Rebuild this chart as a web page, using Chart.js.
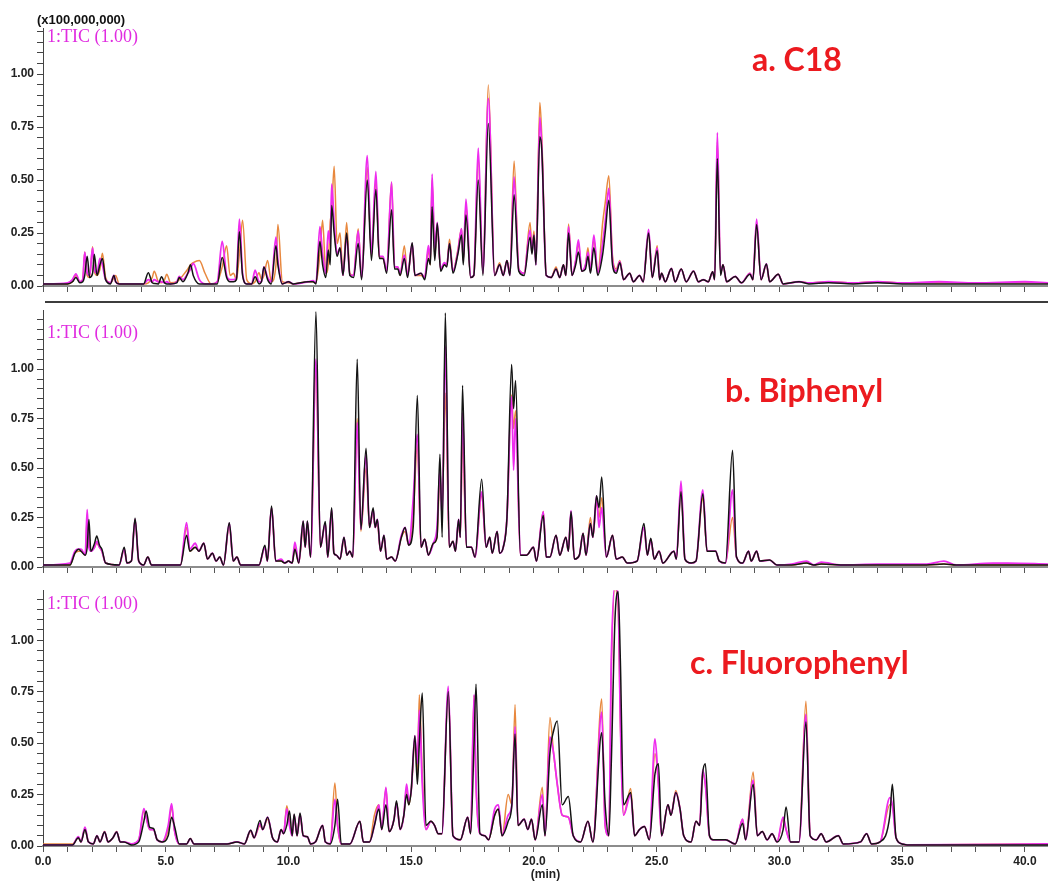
<!DOCTYPE html>
<html>
<head>
<meta charset="utf-8">
<script src="https://cdn.jsdelivr.net/npm/chart.js@4.4.1/dist/chart.umd.min.js"></script>
<style>
  body { margin: 0; background: #fff; }
  #wrap { position: relative; width: 1048px; height: 882px; overflow: hidden; }
  #wrap canvas { position: absolute; left: 0; }
  .scale { position: absolute; left: 37px; top: 12px; font: bold 13px "Liberation Sans", Arial, sans-serif; color: #111; line-height: 16px; }
  .tic { position: absolute; left: 47px; font: 18px "Liberation Serif", "Times New Roman", serif; color: #e02ce0; line-height: 20px; }
  .name { position: absolute; font: bold 32px Lato, "Open Sans", sans-serif; color: #ec1a1f; line-height: 38px; white-space: nowrap; }
</style>
</head>
<body>
<div id="wrap">
  <canvas id="panelA" width="1048" height="300" style="top:0"></canvas>
  <canvas id="panelB" width="1048" height="280" style="top:300px"></canvas>
  <canvas id="panelC" width="1048" height="302" style="top:580px"></canvas>
  <div class="scale">(x100,000,000)</div>
  <div class="tic" style="top:26px">1:TIC (1.00)</div>
  <div class="tic" style="top:322px">1:TIC (1.00)</div>
  <div class="tic" style="top:593px">1:TIC (1.00)</div>
  <div class="name" style="left:752px;top:40px">a. C18</div>
  <div class="name" style="left:725px;top:371px">b. Biphenyl</div>
  <div class="name" style="left:690px;top:643px">c. Fluorophenyl</div>
</div>
<script>
// TIC traces, retention time in min, intensity in units of 1e8 counts.
// Three injections per column: black, magenta, orange.

// a. C18
var c18Time = [
  0, 1.0, 1.2, 1.34, 1.5, 1.62, 1.7, 1.8, 1.9, 2.02,
  2.09, 2.2, 2.32, 2.42, 2.55, 2.75, 2.89, 2.96, 3.1, 4.1,
  4.29, 4.45, 4.53, 4.7, 4.83, 4.95, 5.04, 5.2, 5.45, 5.55,
  5.7, 5.9, 6.01, 6.12, 6.37, 6.6, 6.85, 7.1, 7.3, 7.48,
  7.62, 7.76, 7.88, 8.0, 8.13, 8.3, 8.5, 8.64, 8.8, 8.9,
  9.0, 9.15, 9.3, 9.49, 9.57, 9.75, 10.0, 10.2, 10.8, 11.0,
  11.12, 11.28, 11.39, 11.52, 11.62, 11.7, 11.76, 11.86, 11.98, 12.1,
  12.22, 12.37, 12.5, 12.65, 12.84, 12.98, 13.21, 13.38, 13.56, 13.7,
  13.85, 14.0, 14.2, 14.32, 14.45, 14.55, 14.72, 14.85, 15.04, 15.15,
  15.4, 15.55, 15.7, 15.78, 15.85, 15.96, 16.06, 16.2, 16.35, 16.45,
  16.56, 16.7, 16.9, 17.05, 17.12, 17.23, 17.42, 17.55, 17.73, 17.92,
  18.14, 18.4, 18.6, 18.75, 18.9, 19.02, 19.19, 19.38, 19.6, 19.84,
  19.92, 20.0, 20.08, 20.24, 20.32, 20.5, 20.7, 20.9, 21.05, 21.2,
  21.3, 21.41, 21.55, 21.7, 21.81, 21.95, 22.1, 22.2, 22.3, 22.44,
  22.6, 22.8, 22.9, 23.05, 23.2, 23.35, 23.5, 23.65, 23.9, 24.05,
  24.3, 24.45, 24.67, 24.82, 25.02, 25.12, 25.2, 25.35, 25.6, 25.75,
  26.0, 26.2, 26.5, 26.7, 26.9, 27.1, 27.28, 27.36, 27.47, 27.6,
  27.7, 27.85, 28.2, 28.45, 28.8, 28.92, 29.07, 29.25, 29.47, 29.6,
  29.95, 30.15, 30.8, 31.2, 32.0, 33.0, 34.0, 35.0, 36.5, 38.0,
  40.0, 40.94
];
var c18Black = [
  .01, .01, .02, .04, .015, .02, .05, .14, .04, .06,
  .15, .05, .1, .13, .03, .01, .05, .02, .01, .01,
  .063, .015, .012, .01, .044, .015, .01, .01, .015, .04,
  .02, .06, .1, .05, .01, .01, .01, .01, .135, .04,
  .02, .02, .03, .256, .05, .01, .01, .044, .01, .02,
  .09, .03, .01, .19, .1, .01, .02, .01, .02, .02,
  .01, .21, .1, .04, .17, .1, .38, .25, .14, .18,
  .05, .25, .05, .04, .2, .03, .5, .12, .455, .13,
  .13, .06, .36, .08, .08, .05, .13, .04, .204, .05,
  .06, .03, .13, .1, .374, .12, .296, .07, .1, .09,
  .2, .06, .15, .24, .1, .335, .04, .05, .5, .05,
  .767, .05, .1, .05, .12, .05, .43, .07, .05, .23,
  .15, .24, .1, .704, .64, .05, .04, .08, .04, .1,
  .05, .25, .05, .1, .16, .07, .08, .14, .06, .18,
  .05, .15, .25, .405, .1, .06, .11, .03, .06, .02,
  .05, .02, .25, .04, .167, .03, .06, .02, .083, .02,
  .08, .02, .07, .02, .03, .02, .067, .03, .602, .05,
  .1, .02, .045, .015, .055, .03, .29, .03, .104, .02,
  .055, .01, .02, .01, .015, .01, .015, .01, .01, .01,
  .01, .01
];
var c18Magenta = [
  .01, .015, .03, .057, .02, .03, .16, .06, .05, .18,
  .08, .06, .13, .1, .03, .015, .05, .02, .01, .01,
  .03, .02, .03, .02, .02, .015, .02, .01, .02, .045,
  .03, .06, .08, .107, .03, .01, .01, .02, .21, .05,
  .03, .03, .04, .315, .06, .01, .01, .075, .02, .02,
  .09, .04, .02, .23, .12, .01, .02, .01, .02, .025,
  .015, .28, .15, .06, .26, .2, .48, .3, .15, .18,
  .05, .24, .05, .05, .26, .04, .615, .15, .54, .14,
  .14, .07, .49, .09, .09, .06, .146, .05, .2, .05,
  .06, .04, .19, .12, .528, .16, .3, .08, .11, .1,
  .2, .07, .16, .27, .12, .41, .04, .05, .65, .06,
  .885, .05, .1, .05, .12, .05, .515, .08, .06, .264,
  .16, .24, .1, .795, .65, .05, .04, .08, .04, .1,
  .05, .28, .05, .12, .217, .07, .1, .16, .07, .24,
  .06, .2, .3, .46, .12, .07, .115, .03, .06, .02,
  .05, .02, .267, .04, .18, .03, .06, .02, .083, .02,
  .08, .02, .07, .02, .03, .02, .067, .03, .723, .06,
  .1, .02, .045, .015, .06, .03, .315, .03, .104, .02,
  .055, .01, .02, .015, .02, .015, .02, .015, .02, .015,
  .02, .015
];
var c18Orange = [
  .01, .01, .02, .05, .02, .03, .16, .05, .04, .185,
  .07, .05, .08, .155, .04, .015, .04, .05, .01, .01,
  .015, .04, .07, .02, .015, .03, .055, .015, .02, .03,
  .05, .08, .1, .11, .12, .06, .01, .02, .09, .19,
  .05, .06, .03, .15, .31, .03, .01, .02, .063, .03,
  .05, .12, .02, .1, .29, .02, .015, .01, .02, .02,
  .015, .15, .31, .06, .1, .3, .35, .565, .2, .25,
  .05, .3, .06, .05, .27, .04, .56, .14, .5, .14,
  .13, .07, .49, .09, .09, .05, .19, .05, .19, .05,
  .05, .04, .17, .1, .5, .14, .28, .08, .1, .1,
  .22, .07, .17, .27, .12, .38, .04, .05, .6, .06,
  .948, .05, .11, .05, .12, .06, .59, .08, .06, .3,
  .18, .26, .12, .865, .7, .05, .04, .09, .04, .1,
  .05, .292, .05, .12, .2, .07, .1, .18, .07, .22,
  .06, .3, .39, .52, .14, .08, .12, .03, .06, .02,
  .05, .02, .25, .04, .19, .03, .06, .02, .083, .02,
  .08, .02, .07, .02, .03, .02, .067, .03, .68, .06,
  .1, .02, .045, .015, .06, .03, .3, .03, .1, .02,
  .055, .01, .02, .015, .02, .015, .02, .015, .015, .015,
  .015, .015
];

// b. Biphenyl
var biphenylTime = [
  0, 1.1, 1.3, 1.45, 1.55, 1.72, 1.8, 1.87, 1.95, 2.1,
  2.19, 2.3, 2.4, 2.55, 3.1, 3.31, 3.42, 3.6, 3.75, 3.9,
  4.1, 4.27, 4.42, 5.6, 5.85, 5.98, 6.2, 6.35, 6.55, 6.7,
  6.9, 7.05, 7.2, 7.35, 7.59, 7.75, 7.9, 8.05, 8.8, 9.04,
  9.14, 9.31, 9.48, 9.7, 9.85, 10.0, 10.15, 10.26, 10.42, 10.6,
  10.68, 10.77, 10.9, 11.12, 11.3, 11.5, 11.6, 11.76, 11.85, 11.95,
  12.1, 12.26, 12.38, 12.5, 12.62, 12.8, 12.95, 13.16, 13.3, 13.45,
  13.53, 13.62, 13.75, 13.89, 14.0, 14.2, 14.35, 14.6, 14.75, 14.9,
  15.08, 15.25, 15.4, 15.55, 15.7, 15.9, 16.05, 16.17, 16.26, 16.39,
  16.55, 16.7, 16.8, 16.93, 17.0, 17.09, 17.25, 17.45, 17.6, 17.87,
  18.05, 18.2, 18.3, 18.5, 18.6, 18.75, 18.9, 19.09, 19.17, 19.25,
  19.45, 19.7, 19.98, 20.1, 20.38, 20.5, 20.65, 20.9, 21.05, 21.3,
  21.4, 21.51, 21.65, 21.85, 22.0, 22.12, 22.3, 22.4, 22.55, 22.65,
  22.76, 22.95, 23.2, 23.35, 23.6, 23.8, 24.2, 24.48, 24.62, 24.76,
  24.9, 25.1, 25.25, 25.7, 25.8, 25.99, 26.15, 26.4, 26.6, 26.88,
  27.05, 27.4, 27.55, 27.8, 28.09, 28.25, 28.5, 28.74, 28.85, 29.07,
  29.2, 29.6, 29.9, 30.5, 31.1, 31.4, 31.7, 32.5, 34.0, 36.0,
  36.7, 37.2, 38.7, 39.3, 40.94
];
var biphenylBlack = [
  .01, .01, .07, .09, .08, .06, .1, .24, .08, .12,
  .157, .11, .09, .02, .01, .1, .02, .03, .246, .03,
  .01, .05, .01, .01, .16, .08, .1, .08, .12, .04,
  .07, .03, .05, .01, .224, .03, .05, .01, .01, .11,
  .03, .308, .03, .03, .02, .03, .02, .09, .02, .232,
  .1, .232, .05, 1.29, .1, .23, .05, .3, .07, .06,
  .04, .15, .06, .08, .05, 1.05, .19, .6, .2, .3,
  .2, .24, .08, .16, .04, .05, .03, .15, .2, .11,
  .2, .867, .1, .14, .06, .12, .15, .57, .15, 1.284,
  .1, .13, .08, .24, .15, .918, .1, .1, .05, .443,
  .1, .15, .07, .18, .07, .1, .25, 1.024, .8, .943,
  .06, .06, .1, .03, .26, .05, .05, .16, .06, .15,
  .08, .28, .04, .06, .17, .06, .22, .15, .36, .3,
  .455, .05, .16, .04, .05, .02, .03, .22, .06, .145,
  .04, .08, .02, .08, .04, .38, .04, .02, .03, .37,
  .08, .08, .03, .02, .59, .05, .02, .08, .03, .08,
  .03, .035, .01, .01, .02, .01, .015, .01, .01, .01,
  .015, .01, .01, .01, .01
];
var biphenylMagenta = [
  .01, .02, .08, .09, .09, .06, .29, .1, .08, .1,
  .13, .1, .08, .02, .01, .09, .02, .03, .24, .03,
  .01, .05, .01, .01, .224, .09, .12, .08, .12, .04,
  .07, .03, .05, .01, .22, .03, .05, .01, .01, .1,
  .03, .3, .03, .04, .02, .03, .02, .126, .02, .23,
  .1, .23, .05, 1.05, .1, .22, .05, .29, .07, .06,
  .04, .15, .06, .08, .05, .73, .19, .57, .2, .29,
  .2, .24, .08, .16, .04, .05, .03, .16, .2, .11,
  .342, .67, .1, .14, .06, .12, .2, .49, .25, 1.116,
  .1, .13, .08, .24, .15, .78, .1, .1, .05, .38,
  .1, .15, .07, .18, .07, .1, .25, .86, .49, .75,
  .06, .06, .1, .03, .28, .05, .05, .16, .06, .15,
  .08, .285, .04, .06, .17, .06, .22, .15, .36, .2,
  .3, .05, .16, .04, .05, .02, .03, .2, .06, .14,
  .04, .08, .02, .08, .04, .434, .04, .02, .03, .39,
  .08, .08, .03, .02, .39, .05, .02, .08, .03, .08,
  .03, .035, .01, .015, .03, .01, .025, .01, .015, .015,
  .03, .01, .02, .02, .015
];
var biphenylOrange = [
  .01, .01, .07, .08, .08, .06, .25, .12, .08, .1,
  .12, .1, .08, .02, .01, .09, .02, .03, .24, .03,
  .01, .05, .01, .01, .2, .08, .1, .08, .12, .04,
  .07, .03, .05, .01, .21, .03, .05, .01, .01, .1,
  .03, .3, .03, .03, .02, .03, .02, .1, .02, .2,
  .1, .22, .05, 1.0, .1, .22, .05, .28, .07, .06,
  .04, .14, .06, .08, .05, .75, .18, .5, .2, .28,
  .2, .22, .08, .15, .04, .05, .03, .15, .18, .11,
  .25, .62, .1, .14, .06, .12, .15, .45, .3, .88,
  .1, .13, .08, .22, .15, .64, .1, .1, .05, .36,
  .1, .15, .07, .18, .07, .1, .25, .87, .7, .79,
  .06, .06, .1, .03, .28, .05, .05, .16, .06, .15,
  .08, .27, .04, .06, .17, .06, .25, .15, .33, .25,
  .35, .05, .16, .04, .05, .02, .03, .2, .06, .14,
  .04, .08, .02, .08, .04, .4, .04, .02, .03, .35,
  .08, .08, .03, .02, .25, .05, .02, .08, .03, .08,
  .03, .035, .01, .01, .02, .01, .015, .01, .01, .01,
  .015, .01, .01, .01, .01
];

// c. Fluorophenyl
var fluoroTime = [
  0, 1.2, 1.44, 1.55, 1.71, 1.85, 2.05, 2.2, 2.32, 2.51,
  2.65, 2.85, 3.0, 3.15, 3.3, 3.6, 3.9, 4.11, 4.2, 4.35,
  4.5, 4.65, 4.85, 5.1, 5.24, 5.35, 5.55, 5.85, 6.0, 6.15,
  7.5, 7.9, 8.2, 8.46, 8.6, 8.84, 8.95, 9.15, 9.35, 9.55,
  9.7, 9.8, 9.93, 10.04, 10.15, 10.23, 10.35, 10.47, 10.6, 10.77,
  10.9, 11.1, 11.39, 11.5, 11.7, 11.89, 12.0, 12.15, 12.5, 12.91,
  13.05, 13.3, 13.5, 13.68, 13.8, 13.97, 14.1, 14.3, 14.4, 14.55,
  14.7, 14.81, 14.9, 15.0, 15.15, 15.25, 15.33, 15.45, 15.6, 15.8,
  15.95, 16.1, 16.25, 16.51, 16.7, 17.0, 17.3, 17.42, 17.56, 17.64,
  17.8, 18.0, 18.15, 18.4, 18.55, 18.7, 18.95, 19.1, 19.23, 19.35,
  19.6, 19.75, 19.9, 20.05, 20.34, 20.45, 20.65, 20.8, 20.95, 21.15,
  21.4, 21.6, 21.9, 22.2, 22.4, 22.76, 22.9, 23.05, 23.15, 23.3,
  23.43, 23.52, 23.65, 23.94, 24.1, 24.3, 24.5, 24.7, 24.93, 25.07,
  25.2, 25.46, 25.58, 25.78, 25.95, 26.1, 26.4, 26.6, 26.75, 26.87,
  26.98, 27.15, 27.3, 27.8, 28.2, 28.5, 28.62, 28.93, 29.1, 29.3,
  29.5, 29.7, 29.9, 30.15, 30.27, 30.45, 30.8, 31.08, 31.25, 31.5,
  31.7, 31.9, 32.4, 32.6, 33.3, 33.55, 33.75, 34.1, 34.5, 34.6,
  34.75, 35.0, 35.2, 40.94
];
var fluoroBlack = [
  .005, .005, .04, .02, .08, .02, .01, .05, .02, .068,
  .02, .04, .068, .02, .02, .005, .02, .12, .17, .09,
  .085, .03, .02, .05, .14, .1, .01, .01, .036, .01,
  .01, .02, .01, .076, .04, .124, .08, .14, .04, .02,
  .08, .06, .1, .17, .05, .155, .05, .16, .05, .045,
  .01, .02, .1, .02, .01, .1, .227, .01, .01, .12,
  .02, .02, .1, .18, .08, .2, .07, .13, .22, .08,
  .15, .25, .2, .27, .536, .3, .5, .743, .1, .12,
  .1, .06, .06, .75, .05, .03, .14, .06, .5, .786,
  .06, .05, .03, .15, .18, .05, .12, .2, .544, .1,
  .13, .08, .13, .03, .2, .05, .45, .56, .608, .2,
  .24, .05, .02, .12, .02, .55, .2, .05, .4, 1.1,
  1.235, .9, .2, .26, .05, .08, .095, .03, .35, .4,
  .05, .2, .15, .26, .18, .05, .02, .12, .1, .35,
  .4, .05, .03, .03, .01, .11, .03, .3, .05, .07,
  .03, .06, .02, .08, .19, .02, .02, .604, .05, .03,
  .06, .02, .05, .01, .02, .06, .01, .02, .15, .3,
  .04, .01, .005, .005
];
var fluoroMagenta = [
  .005, .005, .045, .02, .092, .02, .01, .05, .02, .068,
  .02, .04, .068, .02, .02, .01, .03, .182, .14, .08,
  .08, .03, .02, .1, .206, .08, .01, .01, .036, .01,
  .01, .02, .01, .076, .04, .11, .08, .14, .04, .02,
  .08, .06, .18, .1, .05, .15, .05, .155, .05, .045,
  .01, .02, .1, .02, .01, .227, .1, .01, .01, .12,
  .02, .02, .1, .2, .08, .285, .07, .13, .21, .08,
  .15, .3, .22, .27, .536, .4, .66, .3, .08, .12,
  .1, .06, .06, .775, .05, .03, .14, .06, .735, .3,
  .06, .05, .03, .18, .2, .05, .15, .2, .58, .1,
  .13, .08, .13, .03, .25, .05, .53, .45, .3, .15,
  .14, .05, .02, .12, .02, .65, .1, .05, .9, 1.27,
  1.2, .6, .15, .25, .05, .08, .095, .03, .52, .3,
  .05, .2, .15, .26, .18, .05, .02, .12, .1, .37,
  .3, .05, .03, .03, .01, .13, .03, .32, .05, .07,
  .03, .06, .02, .14, .08, .02, .02, .64, .05, .03,
  .06, .02, .05, .01, .02, .06, .01, .02, .235, .2,
  .04, .01, .005, .01
];
var fluoroOrange = [
  .01, .01, .04, .02, .085, .02, .01, .05, .02, .07,
  .02, .04, .07, .02, .02, .01, .03, .17, .14, .08,
  .08, .03, .02, .08, .19, .08, .01, .01, .036, .01,
  .01, .02, .01, .07, .04, .1, .08, .13, .04, .02,
  .08, .06, .195, .12, .05, .15, .05, .15, .05, .045,
  .01, .02, .1, .02, .01, .306, .1, .01, .01, .12,
  .02, .02, .15, .2, .08, .28, .07, .13, .21, .08,
  .15, .28, .2, .27, .5, .35, .735, .35, .08, .12,
  .1, .06, .06, .76, .05, .03, .14, .06, .73, .3,
  .06, .05, .03, .15, .18, .05, .25, .2, .687, .1,
  .13, .08, .13, .03, .285, .05, .624, .45, .3, .15,
  .14, .05, .02, .12, .02, .714, .1, .05, .85, 1.25,
  1.15, .6, .15, .28, .05, .08, .095, .03, .45, .3,
  .05, .2, .15, .27, .18, .05, .02, .12, .1, .35,
  .3, .05, .03, .03, .01, .13, .03, .36, .05, .07,
  .03, .06, .02, .13, .08, .02, .02, .703, .05, .03,
  .06, .02, .05, .01, .02, .06, .01, .02, .2, .2,
  .04, .01, .005, .01
];

var timeMax = 40.94;

function toPoints(times, vals, name) {
  if (times.length != vals.length) {
    throw new Error(name + ': ' + times.length + ' times vs ' + vals.length + ' values');
  }
  return times.map(function(t, i) { return {x: t, y: vals[i]}; });
}

// dark rule across the top of a panel
var topRule = {
  id: 'topRule',
  afterDraw: function(chart, args, opts) {
    if (!opts.show) return;
    var ctx = chart.ctx;
    ctx.save();
    ctx.strokeStyle = '#3c3c3c';
    ctx.lineWidth = 2;
    ctx.beginPath();
    ctx.moveTo(chart.chartArea.left + 2, 2);
    ctx.lineTo(chart.width, 2);
    ctx.stroke();
    ctx.restore();
  }
};

function drawPanel(id, times, black, magenta, orange, yMax, padTop, xHeight, bottom, rule) {
  var ctx = document.getElementById(id).getContext('2d');
  return new Chart(ctx, {
    type: 'line',
    data: {
      datasets: [
        { data: toPoints(times, black, id + ' black'), borderColor: '#141414', borderWidth: 1.5 },
        { data: toPoints(times, magenta, id + ' magenta'), borderColor: '#ee2cee', borderWidth: 1.8 },
        { data: toPoints(times, orange, id + ' orange'), borderColor: '#e8883e', borderWidth: 1.5 }
      ]
    },
    plugins: [topRule],
    options: {
      responsive: false,
      animation: false,
      devicePixelRatio: 1,
      layout: { padding: { top: padTop, left: 0, right: 0, bottom: 0 } },
      elements: {
        point: { radius: 0 },
        line: { cubicInterpolationMode: 'monotone', fill: false }
      },
      plugins: {
        legend: { display: false },
        tooltip: { enabled: false },
        topRule: { show: rule }
      },
      scales: {
        x: {
          type: 'linear',
          min: 0,
          max: timeMax,
          border: { color: '#8c8c8c', width: 2 },
          grid: { drawOnChartArea: false, tickLength: 6, color: '#555' },
          ticks: {
            display: bottom,
            stepSize: 1,
            autoSkip: false,
            includeBounds: false,
            maxRotation: 0,
            padding: 2,
            color: '#222',
            font: { family: '"Liberation Sans Narrow", "Arial Narrow", sans-serif', size: 12, weight: 'bold' },
            callback: function(v) {
              return Math.abs(v / 5 - Math.round(v / 5)) < 1e-6 ? v.toFixed(1) : '';
            }
          },
          title: {
            display: bottom,
            text: '(min)',
            color: '#222',
            padding: { top: -4, bottom: 0 },
            font: { family: '"Liberation Sans Narrow", "Arial Narrow", sans-serif', size: 12, weight: 'bold' }
          },
          afterFit: function(scale) { scale.height = xHeight; }
        },
        y: {
          min: 0,
          max: yMax,
          border: { color: '#444', width: 1 },
          grid: { drawOnChartArea: false, tickLength: 6, color: '#444' },
          ticks: {
            stepSize: 0.05,
            autoSkip: false,
            includeBounds: false,
            padding: 3,
            color: '#222',
            font: { family: '"Liberation Sans", Arial, sans-serif', size: 12, weight: 'bold' },
            // labels every 0.25 up to 1.00, bare ticks elsewhere
            callback: function(v) {
              var onQuarter = Math.abs(v * 4 - Math.round(v * 4)) < 1e-6;
              return onQuarter && v < 1.01 ? v.toFixed(2) : '';
            }
          },
          afterFit: function(scale) { scale.width = 43; }
        }
      }
    }
  });
}

drawPanel('panelA', c18Time, c18Black, c18Magenta, c18Orange, 1.217, 28, 14, false, false);
drawPanel('panelB', biphenylTime, biphenylBlack, biphenylMagenta, biphenylOrange, 1.298, 10, 13, false, true);
drawPanel('panelC', fluoroTime, fluoroBlack, fluoroMagenta, fluoroOrange, 1.243, 5, 36, true, false);
</script>
</body>
</html>
